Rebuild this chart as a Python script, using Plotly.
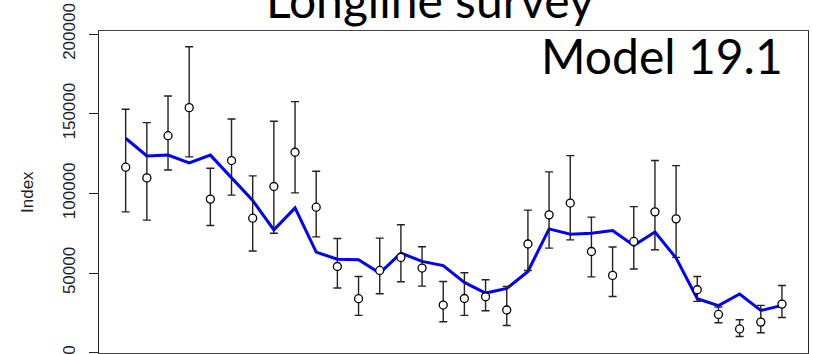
import plotly.graph_objects as go

# Longline survey index, model 19.1 fit
years = list(range(1990, 2022))
obs = [116400, 109700, 136200, 153800, 96400, 120600, 84400, 104300, 125800, 91300,
       54100, 33900, 51600, 59800, 53100, 29900, 34000, 35100, 26800, 68200,
       86500, 93900, 63500, 48500, 69800, 88400, 84000, 39500, 24000, 14900,
       19200, 30500]
upper = [152800, 144400, 161100, 192000, 115800, 146700, 111000, 145300, 157600, 113900,
         71700, 47800, 71900, 80300, 66500, 44700, 50200, 45800, 41600, 89500,
         113500, 123700, 85100, 66300, 91700, 120600, 117400, 47800, 28700, 20700,
         29700, 42200]
lower = [88400, 83200, 114700, 122900, 79800, 98900, 63800, 75000, 100300, 72700,
         40600, 23400, 37000, 44500, 41800, 19400, 23400, 26300, 17100, 51600,
         65600, 70800, 47600, 35300, 52500, 64600, 59800, 32200, 18800, 10200,
         12500, 22100]
fit = [134600, 123500, 124000, 119100, 124000, 109700, 95500, 77100, 90900, 63100,
       58700, 58300, 50000, 62500, 57300, 54700, 44100, 37400, 40300, 51000,
       77700, 74400, 75000, 76700, 67300, 75700, 59400, 33900, 29500, 36800,
       26500, 29700]
ytick_vals = [0, 50000, 100000, 150000, 200000]

err_plus = [u - o for u, o in zip(upper, obs)]
err_minus = [o - l for o, l in zip(obs, lower)]

fig = go.Figure()
fig.add_trace(go.Scatter(x=years, y=fit, mode='lines',
                         line=dict(color='#0000FF', width=3), showlegend=False))
fig.add_trace(go.Scatter(x=years, y=obs, mode='markers',
                         marker=dict(symbol='circle', size=8, color='white',
                                     line=dict(color='black', width=1.3)),
                         error_y=dict(type='data', array=err_plus, arrayminus=err_minus,
                                      color='#222222', thickness=1.4, width=4),
                         showlegend=False))

fig.update_layout(autosize=False, width=813, height=354,
                  margin=dict(l=99, r=5, t=31, b=1),
                  plot_bgcolor='white', paper_bgcolor='white')
fig.update_xaxes(range=[1988.74, 2022.23], showgrid=False, zeroline=False,
                 showticklabels=False, ticks='', automargin=False,
                 showline=True, mirror=True, linecolor='#444444', linewidth=1.2)
fig.update_yaxes(range=[-200, 201900], showgrid=False, zeroline=False, automargin=False,
                 tickvals=ytick_vals, ticktext=[str(v) for v in ytick_vals],
                 ticks='outside', ticklen=9, tickwidth=1.2, tickcolor='#222222',
                 ticklabelstandoff=7, ticklabeloverflow='allow',
                 tickangle=-90, tickfont=dict(family='Liberation Sans', size=17, color='#222222'),
                 showline=True, mirror=True, linecolor='#222222', linewidth=1.4)

fig.add_annotation(text='Index', xref='paper', yref='paper', x=-0.1016, y=0.5,
                   xanchor='center', yanchor='middle', textangle=-90, showarrow=False,
                   font=dict(family='Liberation Sans', size=17, color='#222222'))
fig.add_annotation(text='Longline survey', xref='paper', yref='paper',
                   x=(429.5 - 99) / 709, y=(353 - 30) / 322,
                   xanchor='center', yanchor='bottom', showarrow=False,
                   font=dict(family='Lato', size=48, color='black'))
fig.add_annotation(text='Model 19.1', xref='paper', yref='paper',
                   x=(785 - 99) / 709, y=(353 - 55) / 322,
                   xanchor='right', yanchor='middle', showarrow=False,
                   font=dict(family='Lato', size=48, color='black'))

# page body has a default 8px margin; drop it so the figure sits at the window corner
fig.write_html("out.html", config={'displayModeBar': False},
               post_script="document.body.style.margin='0';")
